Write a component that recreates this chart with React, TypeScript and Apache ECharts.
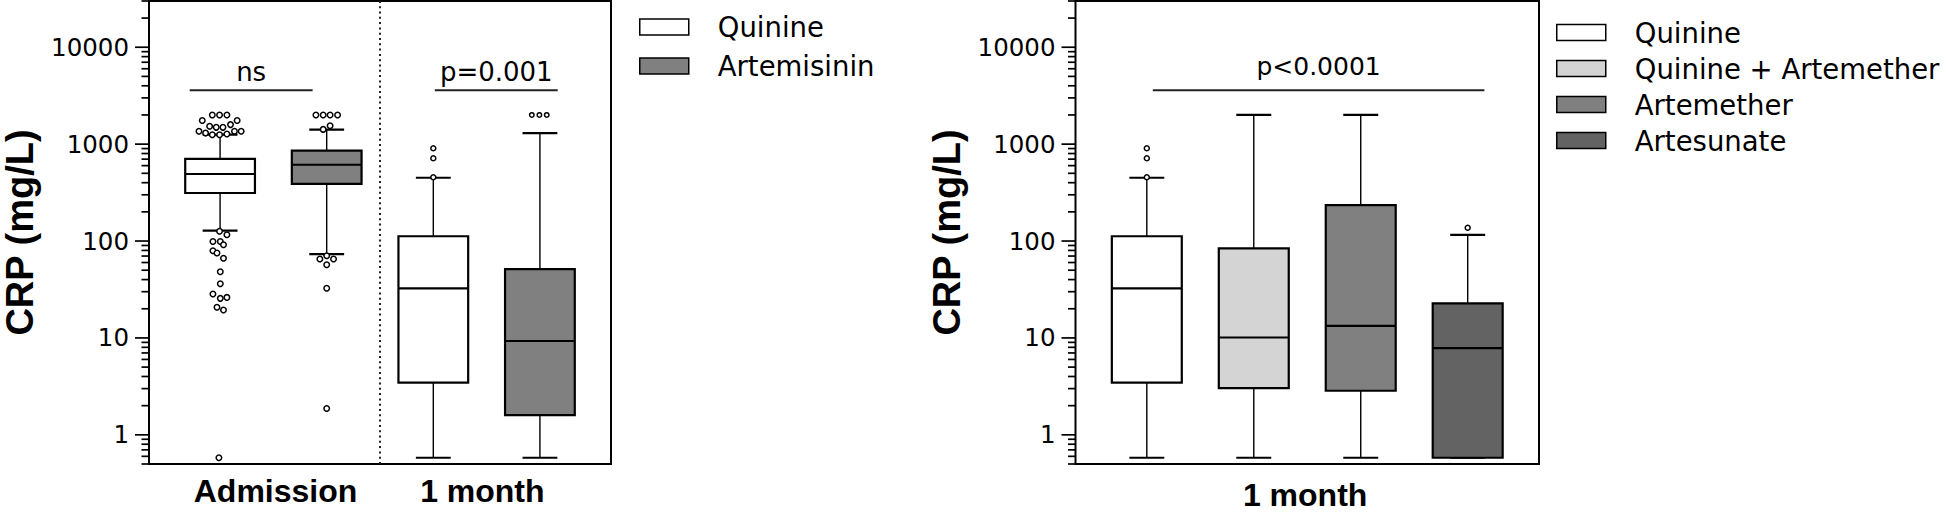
import React, { useEffect, useRef } from 'react';
import * as echarts from 'echarts';

// ---------- axes ----------
const Y_MIN = 0.5;
const Y_MAX = 30000;
const X_MIN = 1 / 3;
const X_MAX = 14 / 3;

const yTickValues = [1, 10, 100, 1000, 10000];
const yTickLabels = ['1', '10', '100', '1000', '10000'];
const yMinorTicks = [
  0.5, 0.6, 0.7, 0.8, 0.9,
  2, 3, 4, 5, 6, 7, 8, 9,
  20, 30, 40, 50, 60, 70, 80, 90,
  200, 300, 400, 500, 600, 700, 800, 900,
  2000, 3000, 4000, 5000, 6000, 7000, 8000, 9000,
  20000, 30000,
];
const yTitle = 'CRP (mg/L)';

// ---------- categories ----------
const leftCategories = ['Admission', '1 month'];
const leftCategoryPos = [1.52, 3.46];
const rightCategories = ['1 month'];
const rightCategoryPos = [2.48];

// ---------- box statistics: [x, lowWhisker, Q1, median, Q3, highWhisker] ----------
const quinineLeft = [
  [1, 128, 313, 492, 703, 1253],
  [3, 0.58, 3.45, 32.5, 112, 450],
];
const artemisininLeft = [
  [2, 73.4, 388, 613, 855, 1410],
  [4, 0.58, 1.6, 9.3, 51.4, 1300],
];
const quinineRight = [[1, 0.58, 3.45, 32.5, 112, 450]];
const quinineArtemetherRight = [[2, 0.58, 3.03, 10.1, 84, 2000]];
const artemetherRight = [[3, 0.58, 2.85, 13.3, 235, 2000]];
const artesunateRight = [[4, 0.58, 0.58, 7.86, 22.7, 116]];

// ---------- outliers: [x (with jitter), value] ----------
const quinineAdmissionOutliers = [
  [0.927, 2000], [0.995, 2000], [1.064, 2000],
  [0.833, 1750], [1.16, 1750],
  [0.902, 1530], [0.964, 1490], [1.027, 1490], [1.098, 1590],
  [0.802, 1360], [1.198, 1360], [0.864, 1300], [0.927, 1250], [0.995, 1250], [1.064, 1270], [1.135, 1360],
  [0.995, 126], [1.064, 116], [0.933, 99], [1.002, 99], [1.032, 91.6],
  [0.933, 79.4], [0.971, 75.2], [1.032, 66.3], [1.002, 48.2], [1.002, 36.2],
  [0.933, 28.4], [1.002, 25.6], [1.064, 26.2], [0.971, 20.7], [1.032, 19.4],
  [0.989, 0.58],
];
const quinineMonthOutliers = [[3, 906], [3, 714], [3, 455]];
const artemisininAdmissionOutliers = [
  [1.899, 2000], [1.967, 2000], [2.032, 2000], [2.102, 2000],
  [1.967, 1420], [2.032, 1550],
  [2.0, 70.5], [1.936, 65.2], [2.064, 65.2], [2.0, 56.9], [2.0, 32.5], [2.0, 1.87],
];
const artemisininMonthOutliers = [[3.924, 2000], [3.995, 2000], [4.064, 2000]];
const quinineRightOutliers = [[1, 906], [1, 714], [1, 455]];
const artesunateRightOutliers = [[4, 137]];

// ---------- annotations: [x1, x2, y] ----------
const leftBrackets = [
  [0.715, 1.868, 3600],
  [3.014, 4.167, 3600],
];
const leftBracketTexts = ['ns', 'p=0.001'];
const rightBrackets = [[1.056, 4.156, 3600]];
const rightBracketTexts = ['p<0.0001'];
const leftDivider = [[2.5, Y_MIN, Y_MAX]];

// ---------- legends ----------
const leftLegend = ['Quinine', 'Artemisinin'];
const leftColors = ['#ffffff', '#808080'];
const rightLegend = ['Quinine', 'Quinine + Artemether', 'Artemether', 'Artesunate'];
const rightColors = ['#ffffff', '#d4d4d4', '#808080', '#636363'];

const FONT = 'DejaVu Sans';
const BOLD_FONT = 'Liberation Sans';
const BOX_W = 0.654;
const CAP_W = 0.327;

function renderBox(params: any, api: any) {
  const x = api.value(0);
  const lo = api.value(1);
  const q1 = api.value(2);
  const med = api.value(3);
  const q3 = api.value(4);
  const hi = api.value(5);
  const cx = api.coord([x, med])[0];
  const yLo = api.coord([x, lo])[1];
  const yQ1 = api.coord([x, q1])[1];
  const yMed = api.coord([x, med])[1];
  const yQ3 = api.coord([x, q3])[1];
  const yHi = api.coord([x, hi])[1];
  const bl = api.coord([x - BOX_W / 2, med])[0];
  const br = api.coord([x + BOX_W / 2, med])[0];
  const cl = api.coord([x - CAP_W / 2, med])[0];
  const cr = api.coord([x + CAP_W / 2, med])[0];
  const fill = api.visual('color');
  const thin = { stroke: '#000', lineWidth: 1.4 };
  const thick = { stroke: '#000', lineWidth: 2.2 };
  return {
    type: 'group',
    children: [
      { type: 'line', shape: { x1: cx, y1: yHi, x2: cx, y2: yQ3 }, style: thin },
      { type: 'line', shape: { x1: cx, y1: yQ1, x2: cx, y2: yLo }, style: thin },
      { type: 'line', shape: { x1: cl, y1: yHi, x2: cr, y2: yHi }, style: thick },
      { type: 'line', shape: { x1: cl, y1: yLo, x2: cr, y2: yLo }, style: thick },
      {
        type: 'rect',
        shape: { x: bl, y: yQ3, width: br - bl, height: yQ1 - yQ3 },
        style: { fill, stroke: '#000', lineWidth: 2.2 },
      },
      { type: 'line', shape: { x1: bl, y1: yMed, x2: br, y2: yMed }, style: thick },
    ],
  };
}

function tickRenderer(len: number) {
  return (params: any, api: any) => {
    const p = api.coord([api.value(0), api.value(1)]);
    return {
      type: 'line',
      shape: { x1: p[0] - len, y1: p[1], x2: p[0], y2: p[1] },
      style: { stroke: '#000', lineWidth: 1.7 },
    };
  };
}

function bracketRenderer(texts: string[], gap: number, fontSize: number) {
  return (params: any, api: any) => {
    const p1 = api.coord([api.value(0), api.value(2)]);
    const p2 = api.coord([api.value(1), api.value(2)]);
    return {
      type: 'group',
      children: [
        {
          type: 'line',
          shape: { x1: p1[0], y1: p1[1], x2: p2[0], y2: p2[1] },
          style: { stroke: '#222', lineWidth: 2 },
        },
        {
          type: 'text',
          x: (p1[0] + p2[0]) / 2,
          y: p1[1] - gap,
          style: {
            text: texts[params.dataIndex],
            align: 'center',
            verticalAlign: 'bottom',
            fontFamily: FONT,
            fontSize,
            fill: '#000',
          },
        },
      ],
    };
  };
}

function renderDivider(params: any, api: any) {
  const p1 = api.coord([api.value(0), api.value(1)]);
  const p2 = api.coord([api.value(0), api.value(2)]);
  return {
    type: 'line',
    shape: { x1: p1[0], y1: p1[1], x2: p2[0], y2: p2[1] },
    style: { stroke: '#222', lineWidth: 2, lineDash: [2, 3.3] },
  };
}

function yFormatter(v: number) {
  const idx = yTickValues.findIndex((t) => Math.abs(v - t) / t < 1e-6);
  return idx >= 0 ? yTickLabels[idx] : '';
}

function catFormatter(pos: number[], names: string[]) {
  return (v: number) => {
    const idx = pos.findIndex((p) => Math.abs(p - v) < 1e-6);
    return idx >= 0 ? names[idx] : '';
  };
}

function makeYAxis(gridIndex: number) {
  return {
    type: 'log',
    logBase: 10,
    gridIndex,
    min: Y_MIN,
    max: Y_MAX,
    axisLine: { show: false },
    axisTick: { show: false },
    minorTick: { show: false },
    splitLine: { show: false },
    axisLabel: {
      margin: 20,
      fontFamily: FONT,
      fontSize: 24.5,
      color: '#000',
      padding: [0, 0, 7, 0],
      formatter: yFormatter,
    },
    name: yTitle,
    nameLocation: 'middle',
    nameGap: 110,
    nameTextStyle: { fontFamily: BOLD_FONT, fontWeight: 'bold', fontSize: 38, color: '#000' },
  };
}

function makeXAxis(gridIndex: number, pos: number[], names: string[], margin: number) {
  return {
    type: 'value',
    gridIndex,
    min: X_MIN,
    max: X_MAX,
    axisLine: { show: false },
    axisTick: { show: false },
    splitLine: { show: false },
    axisLabel: {
      customValues: pos,
      margin,
      fontFamily: BOLD_FONT,
      fontWeight: 'bold',
      fontSize: 32,
      color: '#000',
      formatter: catFormatter(pos, names),
    },
  };
}

function boxSeries(name: string, data: number[][], color: string, idx: number) {
  return {
    type: 'custom',
    name,
    xAxisIndex: idx,
    yAxisIndex: idx,
    data,
    encode: { x: 0, y: [1, 2, 3, 4, 5] },
    itemStyle: { color },
    renderItem: renderBox,
    silent: true,
    z: 3,
  };
}

function outlierSeries(name: string, data: number[][], idx: number, size: number) {
  return {
    type: 'scatter',
    name,
    xAxisIndex: idx,
    yAxisIndex: idx,
    data,
    symbol: 'circle',
    symbolSize: size,
    itemStyle: { color: '#ffffff', borderColor: '#000', borderWidth: 1.5, opacity: 1 },
    silent: true,
    z: 5,
  };
}

function tickSeries(idx: number, values: number[], len: number) {
  return {
    type: 'custom',
    name: 'ticks',
    xAxisIndex: idx,
    yAxisIndex: idx,
    data: values.map((v) => [X_MIN, v]),
    encode: { x: 0, y: 1 },
    renderItem: tickRenderer(len),
    silent: true,
    clip: false,
    z: 4,
  };
}

function legendFor(names: string[], colors: string[], left: number, top: number, gap: number) {
  return {
    orient: 'vertical',
    left,
    top,
    padding: 0,
    itemWidth: 49,
    itemHeight: 16,
    itemGap: gap,
    icon: 'rect',
    selectedMode: false,
    textStyle: {
      fontFamily: FONT,
      fontSize: 27.5,
      color: '#000',
      lineHeight: 30,
      padding: [0, 0, 0, 24],
    },
    data: names.map((name, i) => ({
      name,
      icon: 'rect',
      itemStyle: { color: colors[i], borderColor: '#000', borderWidth: 1.5 },
    })),
  };
}

export default function App() {
  const ref = useRef<HTMLDivElement>(null);
  useEffect(() => {
    if (!ref.current) return;
    const chart = echarts.init(ref.current, undefined, { renderer: 'svg' });
    const option: any = {
      animation: false,
      backgroundColor: '#ffffff',
      textStyle: { fontFamily: FONT },
      grid: [
        { left: 147.5, top: 1, width: 463.5, height: 463, show: true, borderColor: '#000', borderWidth: 2, backgroundColor: 'transparent' },
        { left: 1075.5, top: 1, width: 463.5, height: 463, show: true, borderColor: '#000', borderWidth: 2, backgroundColor: 'transparent' },
      ],
      xAxis: [
        makeXAxis(0, leftCategoryPos, leftCategories, 11),
        makeXAxis(1, rightCategoryPos, rightCategories, 14.5),
      ],
      yAxis: [makeYAxis(0), makeYAxis(1)],
      legend: [
        legendFor(leftLegend, leftColors, 639, 12, 9),
        legendFor(rightLegend, rightColors, 1556, 17.5, 6),
      ],
      series: [
        // left panel
        {
          type: 'custom',
          name: 'divider',
          xAxisIndex: 0,
          yAxisIndex: 0,
          data: leftDivider,
          encode: { x: 0, y: [1, 2] },
          renderItem: renderDivider,
          silent: true,
          z: 2,
        },
        boxSeries(leftLegend[0], quinineLeft, leftColors[0], 0),
        boxSeries(leftLegend[1], artemisininLeft, leftColors[1], 0),
        outlierSeries('Quinine admission outliers', quinineAdmissionOutliers, 0, 5.5),
        outlierSeries('Quinine 1 month outliers', quinineMonthOutliers, 0, 5),
        outlierSeries('Artemisinin admission outliers', artemisininAdmissionOutliers, 0, 5.5),
        outlierSeries('Artemisinin 1 month outliers', artemisininMonthOutliers, 0, 4.5),
        {
          type: 'custom',
          name: 'brackets',
          xAxisIndex: 0,
          yAxisIndex: 0,
          data: leftBrackets,
          encode: { x: [0, 1], y: 2 },
          renderItem: bracketRenderer(leftBracketTexts, 5, 26),
          silent: true,
          clip: false,
          z: 4,
        },
        tickSeries(0, yTickValues, 14),
        tickSeries(0, yMinorTicks, 7.5),
        // right panel
        boxSeries(rightLegend[0], quinineRight, rightColors[0], 1),
        boxSeries(rightLegend[1], quinineArtemetherRight, rightColors[1], 1),
        boxSeries(rightLegend[2], artemetherRight, rightColors[2], 1),
        boxSeries(rightLegend[3], artesunateRight, rightColors[3], 1),
        outlierSeries('Quinine right outliers', quinineRightOutliers, 1, 5),
        outlierSeries('Artesunate outliers', artesunateRightOutliers, 1, 5),
        {
          type: 'custom',
          name: 'brackets right',
          xAxisIndex: 1,
          yAxisIndex: 1,
          data: rightBrackets,
          encode: { x: [0, 1], y: 2 },
          renderItem: bracketRenderer(rightBracketTexts, 11, 25),
          silent: true,
          clip: false,
          z: 4,
        },
        tickSeries(1, yTickValues, 14),
        tickSeries(1, yMinorTicks, 7.5),
      ],
    };
    chart.setOption(option);
    return () => chart.dispose();
  }, []);
  return (
    <div
      ref={ref}
      style={{ position: 'fixed', left: 0, top: 0, width: 1946, height: 512, background: '#fff' }}
    />
  );
}
